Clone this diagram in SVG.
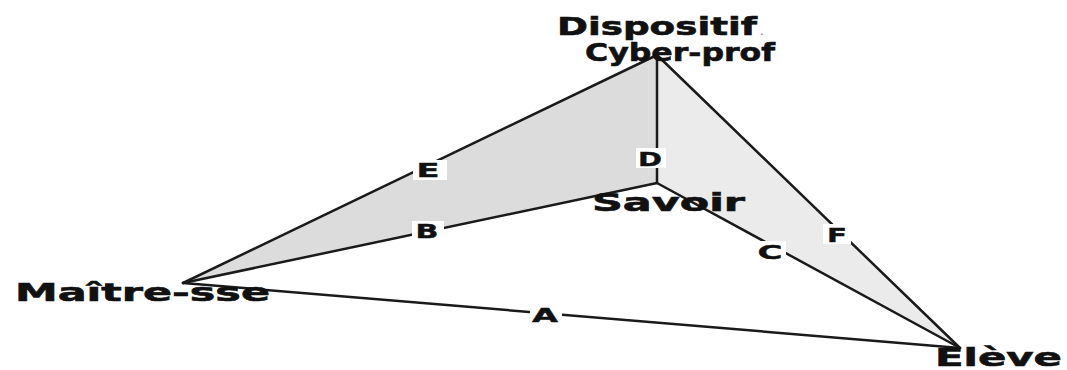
<svg xmlns="http://www.w3.org/2000/svg" width="1067" height="370" viewBox="0 0 1067 370">
<style>
.edge{stroke:#1a1a1a;stroke-width:2.5;fill:none;stroke-linecap:round}
.name{font-family:"DejaVu Sans",Verdana,sans-serif;font-weight:bold;font-size:25px;fill:#111;stroke:#111;stroke-width:0.6}
.lbl{font-family:"DejaVu Sans",Verdana,sans-serif;font-weight:bold;font-size:19px;fill:#111;stroke:#111;stroke-width:0.4;text-anchor:middle}
.bg{fill:#fff}
</style>
<rect width="1067" height="370" fill="#fff"/>
<g id="faces">
<polygon points="183,283 657,55 657,183" fill="#dcdcdc"/>
<polygon points="657,55 657,183 960,348" fill="#ebebeb"/>
</g>
<g id="connectors">
<line class="edge" x1="183" y1="283" x2="960" y2="348"/>
<line class="edge" x1="183" y1="283" x2="657" y2="183"/>
<line class="edge" x1="657" y1="183" x2="960" y2="348"/>
<line class="edge" x1="657" y1="55" x2="657" y2="183"/>
<line class="edge" x1="657" y1="55" x2="183" y2="283"/>
<line class="edge" x1="657" y1="55" x2="960" y2="348"/>
<g id="label-A"><rect class="bg" x="530" y="305" width="32" height="20"/><text class="lbl" x="545" y="322" textLength="26" lengthAdjust="spacingAndGlyphs">A</text></g>
<g id="label-B"><rect class="bg" x="412" y="221" width="32" height="20"/><text class="lbl" x="427" y="238" textLength="23" lengthAdjust="spacingAndGlyphs">B</text></g>
<g id="label-C"><rect class="bg" x="754" y="241" width="32" height="20"/><text class="lbl" x="770" y="259" textLength="25" lengthAdjust="spacingAndGlyphs">C</text></g>
<g id="label-D"><rect class="bg" x="636" y="148" width="30" height="20"/><text class="lbl" x="650" y="166" textLength="24" lengthAdjust="spacingAndGlyphs">D</text></g>
<g id="label-E"><rect class="bg" x="413" y="160" width="34" height="20"/><text class="lbl" x="428" y="177" textLength="23" lengthAdjust="spacingAndGlyphs">E</text></g>
<g id="label-F"><rect class="bg" x="823" y="224" width="28" height="20"/><text class="lbl" x="837" y="242" textLength="20" lengthAdjust="spacingAndGlyphs">F</text></g>
</g>
<g id="node-dispositif">
<text class="name" x="557" y="35" textLength="200" lengthAdjust="spacingAndGlyphs">Dispositif</text>
<text x="760" y="35" font-family="DejaVu Sans,sans-serif" font-size="12" fill="#777">.</text>
<text class="name" x="585" y="61" textLength="190" lengthAdjust="spacingAndGlyphs">Cyber-prof</text>
</g>
<g id="node-savoir">
<text class="name" x="592" y="211" textLength="153" lengthAdjust="spacingAndGlyphs">Savoir</text>
</g>
<g id="node-maitre">
<text class="name" x="15" y="301" textLength="255" lengthAdjust="spacingAndGlyphs">Maître-sse</text>
</g>
<g id="node-eleve">
<text class="name" x="935" y="366" textLength="127" lengthAdjust="spacingAndGlyphs">Elève</text>
</g>
</svg>
